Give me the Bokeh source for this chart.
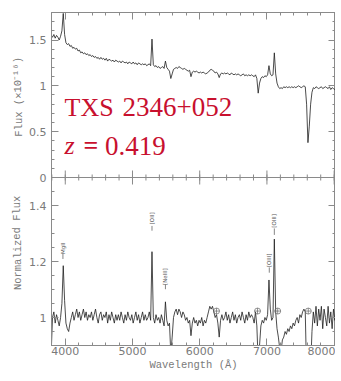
from bokeh.plotting import figure
from bokeh.models import (LinearAxis, FixedTicker, Label, ColumnDataSource, Range1d, Span,
                          CustomJSTickFormatter)
from bokeh.layouts import row
from bokeh.embed import file_html
from bokeh.resources import INLINE
from bokeh.core.properties import value

# ---------------- data ----------------
WAVE = list(range(3790, 8031, 20))

FLUX = [
    1.55, 1.53, 1.56, 1.52, 1.55, 1.53, 1.50, 1.54, 1.60, 1.79,
    1.56, 1.47, 1.45, 1.46, 1.43, 1.44, 1.41, 1.42, 1.40, 1.41,
    1.38, 1.39, 1.36, 1.37, 1.35, 1.36, 1.34, 1.35, 1.33, 1.34,
    1.32, 1.33, 1.31, 1.32, 1.30, 1.31, 1.29, 1.31, 1.29, 1.30,
    1.28, 1.30, 1.27, 1.29, 1.28, 1.27, 1.28, 1.26, 1.28, 1.27,
    1.26, 1.27, 1.25, 1.27, 1.26, 1.25, 1.26, 1.24, 1.26, 1.25,
    1.24, 1.26, 1.24, 1.25, 1.23, 1.25, 1.24, 1.23, 1.24, 1.23,
    1.24, 1.22, 1.23, 1.24, 1.22, 1.51, 1.23, 1.21, 1.22, 1.20,
    1.21, 1.19, 1.20, 1.21, 1.19, 1.27, 1.20, 1.18, 1.16, 1.08,
    1.13, 1.18, 1.19, 1.20, 1.19, 1.21, 1.20, 1.19, 1.18, 1.19,
    1.18, 1.17, 1.16, 1.17, 1.10, 1.15, 1.16, 1.15, 1.16, 1.15,
    1.14, 1.15, 1.14, 1.15, 1.14, 1.13, 1.14, 1.15, 1.17, 1.18,
    1.17, 1.16, 1.14, 1.15, 1.13, 1.09, 1.13, 1.14, 1.13, 1.14,
    1.13, 1.14, 1.13, 1.12, 1.14, 1.13, 1.12, 1.13, 1.12, 1.13,
    1.12, 1.11, 1.12, 1.13, 1.11, 1.12, 1.11, 1.12, 1.11, 1.12,
    1.11, 1.10, 1.12, 1.08, 0.92, 1.03, 1.08, 1.10, 1.09, 1.11,
    1.10, 1.12, 1.22, 1.13, 1.11, 1.12, 1.36, 1.13, 1.03, 0.99,
    0.97, 0.98, 0.97, 0.99, 0.98, 0.99, 0.98, 0.99, 0.98, 0.99,
    0.98, 0.99, 0.98, 0.99, 1.00, 0.99, 0.98, 0.99, 1.00, 0.99,
    0.80, 0.38, 0.56, 0.80, 0.93, 0.98, 0.97, 0.99, 0.98, 0.97,
    0.98, 0.99, 0.97, 0.98, 0.99, 0.98, 0.97, 0.99, 0.96, 0.98,
    0.97, 0.96, 0.97,
]

NORM = [
    0.87, 1.00, 1.02, 0.98, 1.01, 0.99, 0.97, 1.00, 1.05, 1.185,
    1.06, 0.98, 0.96, 0.95, 0.98, 1.00, 1.02, 0.99, 1.01, 1.03,
    1.00, 1.02, 0.99, 1.01, 1.03, 1.00, 1.02, 0.99, 1.01, 1.00,
    1.02, 0.99, 1.01, 1.03, 1.00, 0.98, 1.01, 1.02, 0.99, 1.01,
    1.00, 1.02, 0.98, 1.01, 0.99, 1.02, 1.00, 0.98, 1.01, 0.99,
    1.01, 0.99, 1.02, 1.00, 0.98, 1.01, 0.99, 1.02, 1.00, 0.99,
    1.01, 0.98, 1.00, 1.02, 0.99, 1.01, 0.98, 1.00, 1.02, 0.99,
    1.01, 0.99, 1.00, 1.02, 0.99, 1.235, 1.00, 0.98, 1.01, 0.99,
    1.00, 0.98, 1.01, 0.99, 0.97, 1.056, 0.99, 0.97, 0.98, 0.87,
    0.93, 1.00, 1.02, 1.03, 1.01, 1.03, 1.02, 1.00, 1.02, 1.01,
    0.99, 1.00, 0.98, 0.99, 0.935, 0.98, 1.00, 0.98, 0.99, 0.97,
    0.99, 0.98, 1.00, 0.97, 0.99, 0.98, 1.00, 1.02, 1.04, 1.03,
    1.04, 1.02, 1.00, 1.01, 0.98, 0.93, 0.99, 1.01, 0.99, 1.00,
    1.02, 0.99, 1.01, 0.98, 1.00, 1.02, 0.99, 1.01, 0.98, 1.00,
    1.01, 0.99, 1.02, 1.00, 0.98, 1.01, 0.99, 1.02, 1.00, 1.01,
    1.00, 0.98, 1.02, 0.97, 0.84, 0.90, 0.97, 0.99, 0.98, 1.00,
    0.99, 1.01, 1.134, 1.03, 0.99, 1.00, 1.28, 1.02, 0.96, 0.93,
    0.89, 0.88, 0.92, 0.93, 0.95, 0.94, 0.96, 0.95, 0.97, 0.96,
    0.98, 0.97, 0.99, 1.00, 0.98, 1.01, 1.00, 1.02, 1.03, 1.02,
    0.80, 0.38, 0.56, 0.82, 0.95, 1.02, 0.98, 1.04, 0.97, 1.03,
    0.99, 1.04, 0.96, 1.03, 1.00, 0.97, 1.04, 0.98, 1.02, 0.96,
    1.03, 0.99, 1.01,
]

LINE_NAMES = ["MgII", "[OII]", "[NeIII]", "[OIII]", "[OIII]"]
LINE_WAVES = [3965, 5290, 5490, 7035, 7110]
LINE_LABEL_Y = [1.247, 1.354, 1.146, 1.204, 1.345]
LINE_TICK_TOP = [1.228, 1.327, 1.118, 1.179, 1.318]
LINE_TICK_BOT = [1.209, 1.310, 1.101, 1.160, 1.295]

TELL_WAVES = [6250, 6860, 7160, 7615]
TELL_Y = [1.023, 1.023, 1.023, 1.023]

X_MAJOR = [4000, 5000, 6000, 7000, 8000]
X_MINOR = list(range(3800, 8001, 200))
TOP_Y_MAJOR = [0, 0.5, 1, 1.5]
TOP_Y_MAJOR_LABELS = ["0", "0.5", "1", "1.5"]
TOP_Y_MINOR = [round(0.1 * k, 1) for k in range(1, 19)]
BOT_Y_MAJOR = [1.0, 1.2, 1.4]
BOT_Y_MAJOR_LABELS = ["1", "1.2", "1.4"]
BOT_Y_MINOR = [round(0.9 + 0.05 * k, 2) for k in range(0, 13)]

NAME_A = "TXS"
NAME_B = "2346+052"
REDSHIFT = "0.419"
TOP_TITLE = "Flux (×10⁻¹⁶)"
BOT_TITLE = "Normalized Flux"
X_TITLE = "Wavelength (Å)"

# ---------------- layout constants ----------------
AX = "#8a8a8a"
LBL = "#7a7a7a"
X_RANGE = (3795, 8020)
TOP_RANGE = (0.0, 1.8)
BOT_RANGE = (0.9, 1.5)
TOP_H = 165      # pixel height of upper panel
BOT_H = 168      # pixel height of lower panel
FRAME_W = 284
BORDER_TOP = 12
BORDER_BOTTOM = 28
BORDER_LEFT = 23
TITLE_W = 26
TOTAL_H = BORDER_TOP + TOP_H + BOT_H + BORDER_BOTTOM

bot_per_px = (BOT_RANGE[1] - BOT_RANGE[0]) / BOT_H
top_per_px = (TOP_RANGE[1] - TOP_RANGE[0]) / TOP_H
main_range = Range1d(BOT_RANGE[0], BOT_RANGE[1] + TOP_H * bot_per_px)
top_range = Range1d(TOP_RANGE[0] - BOT_H * top_per_px, TOP_RANGE[1])


def top_to_main(v):
    return round(BOT_RANGE[1] + (v - TOP_RANGE[0]) / top_per_px * bot_per_px, 6)


BLANK = CustomJSTickFormatter(code="return ''")


def style_axis(ax, labels):
    ax.axis_line_color = AX
    ax.major_tick_line_color = AX
    ax.minor_tick_line_color = AX
    ax.major_tick_in = 7
    ax.major_tick_out = 0
    ax.minor_tick_in = 3
    ax.minor_tick_out = 0
    if labels:
        ax.major_label_text_font = "DejaVu Sans"
        ax.major_label_text_font_size = "11px"
        ax.major_label_text_color = LBL
        ax.axis_label_text_font = "Liberation Mono"
        ax.axis_label_text_font_size = "10.5px"
        ax.axis_label_text_font_style = "normal"
        ax.axis_label_text_color = LBL
    else:
        ax.formatter = BLANK
        ax.major_label_text_font_size = "1px"
        ax.major_label_standoff = 0
        ax.major_label_text_alpha = 0


p = figure(frame_width=FRAME_W, frame_height=TOP_H + BOT_H,
           x_range=Range1d(*X_RANGE), y_range=main_range,
           output_backend="svg", toolbar_location=None,
           x_axis_location=None, y_axis_location=None,
           min_border_left=BORDER_LEFT, min_border_right=0, min_border_top=BORDER_TOP,
           min_border_bottom=BORDER_BOTTOM)
p.extra_y_ranges = {"top": top_range}
p.grid.visible = False
p.outline_line_color = AX
p.border_fill_color = "white"
p.background_fill_color = "white"

# y ticks: both panels on one axis
y_major = BOT_Y_MAJOR + [top_to_main(v) for v in TOP_Y_MAJOR]
y_minor = BOT_Y_MINOR + [top_to_main(v) for v in TOP_Y_MINOR]
y_labels = dict(zip(y_major, BOT_Y_MAJOR_LABELS + TOP_Y_MAJOR_LABELS))
yt = FixedTicker(ticks=y_major, minor_ticks=y_minor)
xt = FixedTicker(ticks=X_MAJOR, minor_ticks=X_MINOR)

left = LinearAxis(ticker=yt)
style_axis(left, True)
left.major_label_standoff = 5
left.major_label_overrides = y_labels
p.add_layout(left, "left")

right = LinearAxis(ticker=yt)
style_axis(right, False)
p.add_layout(right, "right")

top = LinearAxis(ticker=xt)
style_axis(top, False)
p.add_layout(top, "above")

bottom = LinearAxis(ticker=xt, axis_label=X_TITLE)
style_axis(bottom, True)
bottom.major_label_standoff = 1
bottom.axis_label_standoff = 1
p.add_layout(bottom, "below")

# panel boundary with ticks crossing it
p.add_layout(Span(location=BOT_RANGE[1], dimension="width", line_color=AX, line_width=1))
maj_len = 7 * bot_per_px
min_len = 3 * bot_per_px
bsrc = ColumnDataSource(data=dict(
    x=X_MAJOR + X_MINOR,
    y0=[BOT_RANGE[1] - maj_len] * len(X_MAJOR) + [BOT_RANGE[1] - min_len] * len(X_MINOR),
    y1=[BOT_RANGE[1] + maj_len] * len(X_MAJOR) + [BOT_RANGE[1] + min_len] * len(X_MINOR),
))
p.segment(x0="x", y0="y0", x1="x", y1="y1", source=bsrc, line_color=AX, line_width=1)

# spectra
src = ColumnDataSource(data=dict(w=WAVE, f=FLUX, n=NORM))
p.line("w", "f", source=src, y_range_name="top", line_color="#1e1e1e", line_width=0.8)
p.line("w", "n", source=src, line_color="#1e1e1e", line_width=0.8)

# line identifications
lsrc = ColumnDataSource(data=dict(x=LINE_WAVES, y=LINE_LABEL_Y, t=LINE_NAMES,
                                  y0=LINE_TICK_BOT, y1=LINE_TICK_TOP))
p.segment(x0="x", y0="y0", x1="x", y1="y1", source=lsrc, line_color="#666666",
          line_width=0.8)
p.text(x="x", y="y", text="t", source=lsrc, angle=1.5708, text_align="center",
       text_baseline="middle", text_font=value("DejaVu Sans"),
       text_font_size="5.5px", text_color="#555555")

p.scatter(TELL_WAVES, TELL_Y, marker="circle_cross", size=6, fill_color=None,
          line_color="#666666", line_width=0.7)

# red object labels (upper panel units)
RED = "#c8102e"
Y_NAME = 0.764
Y_Z = 0.349


def red_label(x, y, text, size="26px", style="normal"):
    p.add_layout(Label(x=x, y=y, y_range_name="top", text=text,
                       text_font="Liberation Serif", text_font_style=style,
                       text_font_size=size, text_color=RED,
                       text_baseline="alphabetic"))


red_label(3990, Y_NAME, NAME_A)
red_label(4851, Y_NAME, NAME_B, size="27px")
red_label(3990, Y_Z, "z", style="italic")
red_label(4270, Y_Z, "=", style="bold")
red_label(4590, Y_Z, REDSHIFT, size="27px")

# ---------------- narrow strip holding the two y-axis titles ----------------
t = figure(width=TITLE_W, height=TOTAL_H, x_range=Range1d(0, TITLE_W),
           y_range=Range1d(0, TOTAL_H), output_backend="svg", toolbar_location=None,
           x_axis_location=None, y_axis_location=None,
           min_border_left=0, min_border_right=0, min_border_top=0, min_border_bottom=0)
t.grid.visible = False
t.outline_line_color = None
t.border_fill_color = "white"
t.background_fill_color = "white"
title_src = ColumnDataSource(data=dict(
    x=[18, 17],
    y=[BORDER_BOTTOM + BOT_H + TOP_H / 2, BORDER_BOTTOM + BOT_H / 2 + 3],
    s=[TOP_TITLE, BOT_TITLE],
))
t.text(x="x", y="y", text="s", source=title_src, angle=1.5708, text_align="center",
       text_baseline="middle", text_font=value("Liberation Mono"),
       text_font_size="10.5px", text_color=LBL)

layout = row(t, p, spacing=0)
open("out.html", "w").write(file_html(layout, INLINE))
